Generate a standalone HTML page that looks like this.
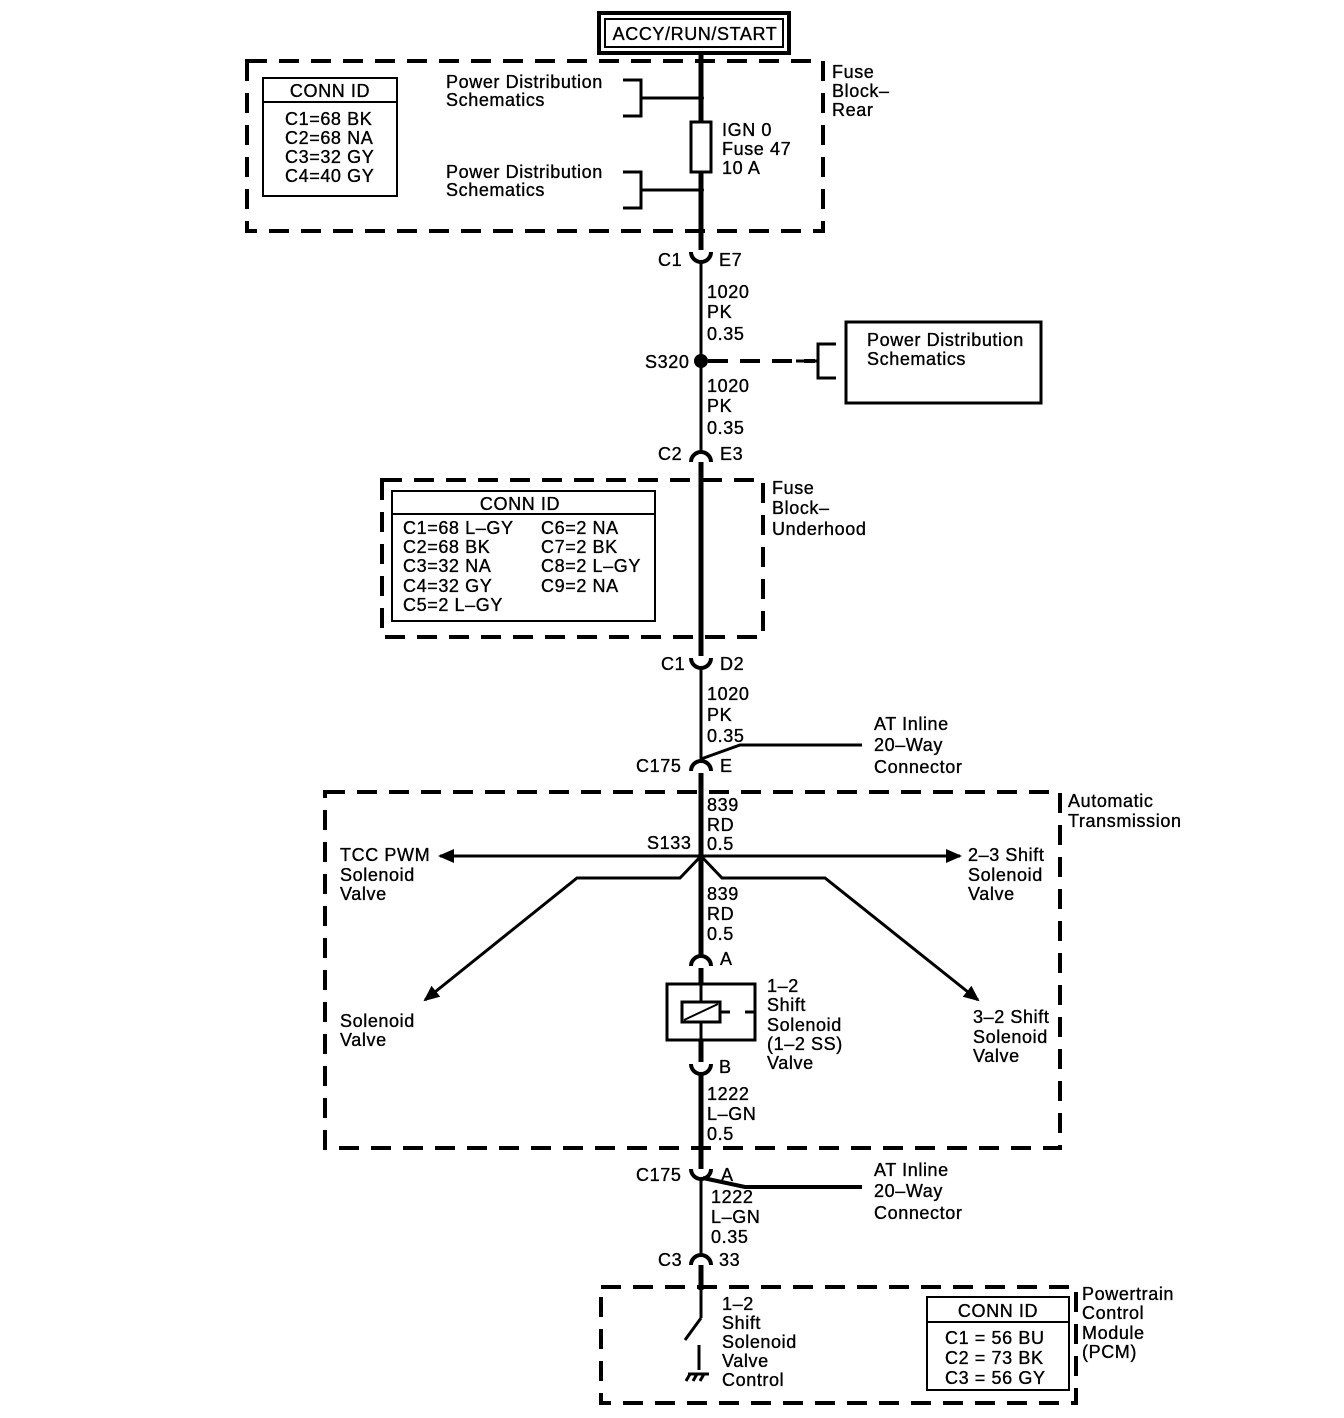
<!DOCTYPE html>
<html><head><meta charset="utf-8"><style>
html,body{margin:0;padding:0;background:#fff}
svg{display:block}
text{font-family:"Liberation Sans",sans-serif;font-size:18px;letter-spacing:0.6px;fill:#000;stroke:#000;stroke-width:0.35px}
</style></head><body>
<svg width="1344" height="1418" viewBox="0 0 1344 1418" xmlns="http://www.w3.org/2000/svg">
<defs>
<marker id="ar2" markerWidth="16" markerHeight="14" refX="14" refY="7" orient="auto" markerUnits="userSpaceOnUse" viewBox="0 0 16 14"><path d="M0,0 L16,7 L0,14 z" fill="#000"/></marker></defs>
<g fill="none" stroke="#000">
<rect x="599" y="13" width="190" height="40" stroke-width="4"/>
<rect x="605" y="19" width="178" height="28" stroke-width="2"/>
<g stroke-width="4" stroke-dasharray="20,12">
<rect x="247" y="61" width="576" height="170"/>
<rect x="382" y="480" width="381" height="157"/>
<rect x="325" y="792" width="735" height="356"/>
<rect x="601" y="1287" width="475" height="116"/>
</g>
<line x1="701" y1="53" x2="701" y2="250" stroke-width="5"/>
<line x1="701" y1="262" x2="701" y2="452" stroke-width="3"/>
<line x1="701" y1="462" x2="701" y2="656" stroke-width="5"/>
<line x1="701" y1="668" x2="701" y2="763" stroke-width="3"/>
<line x1="701" y1="773" x2="701" y2="958" stroke-width="5"/>
<line x1="701" y1="968" x2="701" y2="1062" stroke-width="5"/>
<line x1="701" y1="1075" x2="701" y2="1169" stroke-width="5"/>
<line x1="701" y1="1178" x2="701" y2="1256" stroke-width="3"/>
<line x1="701" y1="1265" x2="701" y2="1290" stroke-width="5"/>
<line x1="701" y1="1290" x2="701" y2="1318" stroke-width="3"/>
<g stroke-width="4">
<path d="M691,252 A10,10 0 0 0 711,252"/>
<path d="M691,462 A10,10 0 0 1 711,462"/>
<path d="M691,658 A10,10 0 0 0 711,658"/>
<path d="M691,771 A10,10 0 0 1 711,771"/>
<path d="M691,966 A10,10 0 0 1 711,966"/>
<path d="M691,1064 A10,10 0 0 0 711,1064"/>
<path d="M691,1169 A10,10 0 0 0 711,1169"/>
<path d="M691,1265 A10,10 0 0 1 711,1265"/>
</g>
<rect x="263" y="78" width="134" height="118" stroke-width="2"/>
<line x1="263" y1="102" x2="397" y2="102" stroke-width="2"/>
<path d="M623,80 H641 V116 H623 M641,98 H701" stroke-width="3"/>
<path d="M623,172 H641 V208 H623 M641,190 H701" stroke-width="3"/>
<rect x="691" y="122" width="20" height="50" fill="#fff" stroke-width="3"/>
<line x1="708" y1="361" x2="815" y2="361" stroke-width="4" stroke-dasharray="20,12"/>
<path d="M836,344 H818 V378 H836 M796,361 H818" stroke-width="3"/>
<rect x="846" y="322" width="195" height="81" stroke-width="3"/>
<rect x="392" y="491" width="263" height="130" stroke-width="2"/>
<line x1="392" y1="514" x2="655" y2="514" stroke-width="2"/>
<path d="M701,759 L740,745 H862" stroke-width="3"/>
<path d="M703,1178 L745,1187 H862" stroke-width="4"/>
<line x1="701" y1="856" x2="440" y2="856" stroke-width="3" marker-end="url(#ar2)"/>
<line x1="701" y1="856" x2="960" y2="856" stroke-width="3" marker-end="url(#ar2)"/>
<path d="M701,856 L680,878 H577 L425,1000" stroke-width="3" marker-end="url(#ar2)"/>
<path d="M701,856 L722,878 H825 L978,1000" stroke-width="3" marker-end="url(#ar2)"/>
<rect x="667" y="984" width="88" height="56" fill="#fff" stroke-width="3"/>
<line x1="701" y1="984" x2="701" y2="1040" stroke-width="3"/>
<rect x="682" y="1002" width="38" height="20" fill="#fff" stroke-width="3"/>
<line x1="684" y1="1020" x2="718" y2="1004" stroke-width="2"/>
<line x1="720" y1="1012" x2="730" y2="1012" stroke-width="3"/>
<line x1="745" y1="1012" x2="755" y2="1012" stroke-width="3"/>
<path d="M701,1318 L685,1340" stroke-width="3"/>
<line x1="699" y1="1345" x2="699" y2="1370" stroke-width="3"/>
<path d="M688,1374 H709 M690,1374 L686,1381 M697,1374 L693,1381 M704,1374 L700,1381" stroke-width="3"/>
<rect x="927" y="1297" width="142" height="93" stroke-width="2"/>
<line x1="927" y1="1322" x2="1069" y2="1322" stroke-width="2"/>
</g>
<circle cx="701" cy="361" r="7" fill="#000"/>
<circle cx="701" cy="98" r="3" fill="#000"/>
<circle cx="701" cy="190" r="3" fill="#000"/>

<text x="695" y="40" text-anchor="middle">ACCY/RUN/START</text>
<text x="330" y="97" text-anchor="middle">CONN ID</text>
<text x="285" y="125">C1=68 BK</text><text x="285" y="144">C2=68 NA</text><text x="285" y="163">C3=32 GY</text><text x="285" y="182">C4=40 GY</text>
<text x="446" y="88">Power Distribution</text><text x="446" y="106">Schematics</text>
<text x="446" y="178">Power Distribution</text><text x="446" y="196">Schematics</text>
<text x="722" y="136">IGN 0</text><text x="722" y="155">Fuse 47</text><text x="722" y="174">10 A</text>
<text x="832" y="78">Fuse</text><text x="832" y="97">Block–</text><text x="832" y="116">Rear</text>
<text x="658" y="266">C1</text><text x="719" y="266">E7</text>
<text x="707" y="298">1020</text><text x="707" y="318">PK</text><text x="707" y="340">0.35</text>
<text x="645" y="368">S320</text>
<text x="867" y="346">Power Distribution</text><text x="867" y="365">Schematics</text>
<text x="707" y="392">1020</text><text x="707" y="412">PK</text><text x="707" y="434">0.35</text>
<text x="658" y="460">C2</text><text x="720" y="460">E3</text>
<text x="520" y="510" text-anchor="middle">CONN ID</text>
<text x="403" y="534">C1=68 L–GY</text><text x="403" y="553">C2=68 BK</text><text x="403" y="572">C3=32 NA</text><text x="403" y="592">C4=32 GY</text><text x="403" y="611">C5=2 L–GY</text>
<text x="541" y="534">C6=2 NA</text><text x="541" y="553">C7=2 BK</text><text x="541" y="572">C8=2 L–GY</text><text x="541" y="592">C9=2 NA</text>
<text x="772" y="494">Fuse</text><text x="772" y="514">Block–</text><text x="772" y="535">Underhood</text>
<text x="661" y="670">C1</text><text x="720" y="670">D2</text>
<text x="707" y="700">1020</text><text x="707" y="721">PK</text><text x="707" y="742">0.35</text>
<text x="874" y="730">AT Inline</text><text x="874" y="751">20–Way</text><text x="874" y="773">Connector</text>
<text x="636" y="772">C175</text><text x="720" y="772">E</text>
<text x="1068" y="807">Automatic</text><text x="1068" y="827">Transmission</text>
<text x="707" y="811">839</text><text x="707" y="831">RD</text><text x="707" y="850">0.5</text>
<text x="647" y="849">S133</text>
<text x="340" y="861">TCC PWM</text><text x="340" y="881">Solenoid</text><text x="340" y="900">Valve</text>
<text x="968" y="861">2–3 Shift</text><text x="968" y="881">Solenoid</text><text x="968" y="900">Valve</text>
<text x="707" y="900">839</text><text x="707" y="920">RD</text><text x="707" y="940">0.5</text>
<text x="720" y="965">A</text>
<text x="767" y="992">1–2</text><text x="767" y="1011">Shift</text><text x="767" y="1031">Solenoid</text><text x="767" y="1050">(1–2 SS)</text><text x="767" y="1069">Valve</text>
<text x="340" y="1027">Solenoid</text><text x="340" y="1046">Valve</text>
<text x="973" y="1023">3–2 Shift</text><text x="973" y="1043">Solenoid</text><text x="973" y="1062">Valve</text>
<text x="719" y="1073">B</text>
<text x="707" y="1100">1222</text><text x="707" y="1120">L–GN</text><text x="707" y="1140">0.5</text>
<text x="636" y="1181">C175</text><text x="721" y="1181">A</text>
<text x="874" y="1176">AT Inline</text><text x="874" y="1197">20–Way</text><text x="874" y="1219">Connector</text>
<text x="711" y="1203">1222</text><text x="711" y="1223">L–GN</text><text x="711" y="1243">0.35</text>
<text x="658" y="1266">C3</text><text x="719" y="1266">33</text>
<text x="722" y="1310">1–2</text><text x="722" y="1329">Shift</text><text x="722" y="1348">Solenoid</text><text x="722" y="1367">Valve</text><text x="722" y="1386">Control</text>
<text x="998" y="1317" text-anchor="middle">CONN ID</text>
<text x="945" y="1344">C1 = 56 BU</text><text x="945" y="1364">C2 = 73 BK</text><text x="945" y="1384">C3 = 56 GY</text>
<text x="1082" y="1300">Powertrain</text><text x="1082" y="1319">Control</text><text x="1082" y="1339">Module</text><text x="1082" y="1358">(PCM)</text>
</svg>
</body></html>
